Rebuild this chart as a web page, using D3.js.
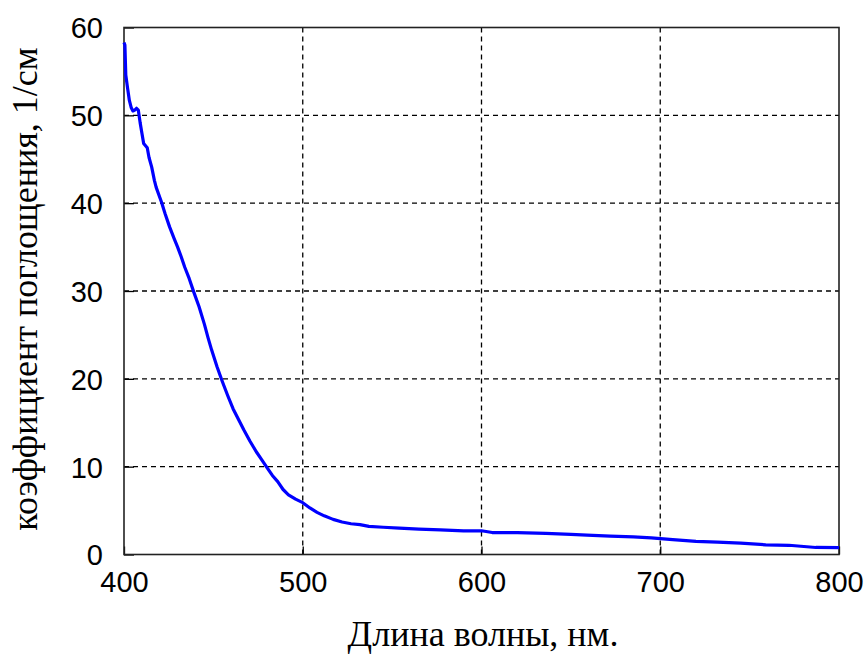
<!DOCTYPE html>
<html><head><meta charset="utf-8">
<script src="https://cdn.jsdelivr.net/npm/d3@7"></script>
<style>body{margin:0;background:#fff}svg{display:block}</style>
</head><body>
<svg id="c" width="867" height="654"></svg>
<script>
const wavelength = [400,400.5,401,402,403,404,405,406,407,408,409,410,411,413,414,415.5,417,418,421,423,425.5,428,430,432,434,436.5,439,442,445,447,449,452,455,458,461,464,467,470.5,474,477,480,483,486,489,492,496,500,504,508,512,517,522,527,532,537,545,554,565,577,590,600,606,620,636,650,659,672,685,695,707,720,732,745,759,772,787,800];
const absorption = [58.3,58,54.6,53.1,51.7,50.9,50.5,50.6,50.8,50.6,49.2,48,46.8,46.3,45.2,44.1,42.6,41.8,40.1,38.8,37.3,36,35,33.9,32.7,31.4,29.9,28.2,26.2,24.7,23.3,21.4,19.7,18.1,16.6,15.4,14.2,12.9,11.7,10.8,9.9,9.0,8.3,7.4,6.8,6.3,5.9,5.3,4.8,4.4,4.0,3.7,3.5,3.4,3.2,3.1,3.0,2.9,2.8,2.7,2.7,2.5,2.5,2.4,2.3,2.2,2.1,2.0,1.9,1.7,1.5,1.4,1.3,1.1,1.05,0.8,0.78];
const xTicks = [400,500,600,700,800];
const yTicks = [0,10,20,30,40,50,60];
const xTitle = "Длина волны, нм.";
const yTitle = "коэффициент поглощения, 1/см";

const svg = d3.select("#c");
const L = 124, R = 839, T = 27.5, B = 554.5;
const x = d3.scaleLinear().domain([400,800]).range([L,R]);
const y = d3.scaleLinear().domain([0,60]).range([B,T]);

// grid
const g = svg.append("g");
g.selectAll("line.gx").data(xTicks.slice(1,-1)).join("line")
  .attr("x1",d=>x(d)).attr("x2",d=>x(d)).attr("y1",T).attr("y2",B)
  .attr("stroke","#000").attr("stroke-width",1.3).attr("stroke-dasharray","5,4");
g.selectAll("line.gy").data(yTicks.slice(1,-1)).join("line")
  .attr("x1",L).attr("x2",R).attr("y1",d=>y(d)).attr("y2",d=>y(d))
  .attr("stroke","#000").attr("stroke-width",1.3).attr("stroke-dasharray","5,4");

// axes
const xAxis = d3.axisBottom(x).tickValues(xTicks).tickSize(-8).tickPadding(17).tickFormat(d3.format("d"));
const yAxis = d3.axisLeft(y).tickValues(yTicks).tickSize(-10).tickPadding(21).tickFormat(d3.format("d"));
const ax = svg.append("g").attr("transform",`translate(0,${B})`).call(xAxis);
const ay = svg.append("g").attr("transform",`translate(${L},0)`).call(yAxis);
[ax,ay].forEach(a=>{
  a.select(".domain").remove();
  a.selectAll(".tick line").attr("stroke","#000").attr("stroke-width",1.3);
  a.selectAll("text").attr("font-family","'Liberation Sans', Arial, sans-serif").attr("font-size",29).attr("fill","#000");
});
ax.selectAll("text").attr("dy","0.71em");
ay.selectAll("text").attr("dy","0.36em");

// frame
svg.append("rect").attr("x",L).attr("y",T).attr("width",R-L).attr("height",B-T)
  .attr("fill","none").attr("stroke","#222").attr("stroke-width",1.6);

// curve
const data = wavelength.map((w,i)=>[w,absorption[i]]);
svg.append("path").datum(data)
  .attr("d", d3.line().x(d=>x(d[0])).y(d=>y(d[1])))
  .attr("fill","none").attr("stroke","#0000ff").attr("stroke-width",3.2).attr("stroke-linejoin","round");

// titles
svg.append("text").attr("x",(348+618)/2).attr("y",646).attr("text-anchor","middle")
  .attr("font-family","'Liberation Serif', 'Times New Roman', serif").attr("font-size",36).attr("fill","#000").text(xTitle);
svg.append("text").attr("transform","translate(37,289) rotate(-90)").attr("text-anchor","middle")
  .attr("font-family","'Liberation Serif', 'Times New Roman', serif").attr("font-size",36).attr("fill","#000").text(yTitle);
</script>
</body></html>
